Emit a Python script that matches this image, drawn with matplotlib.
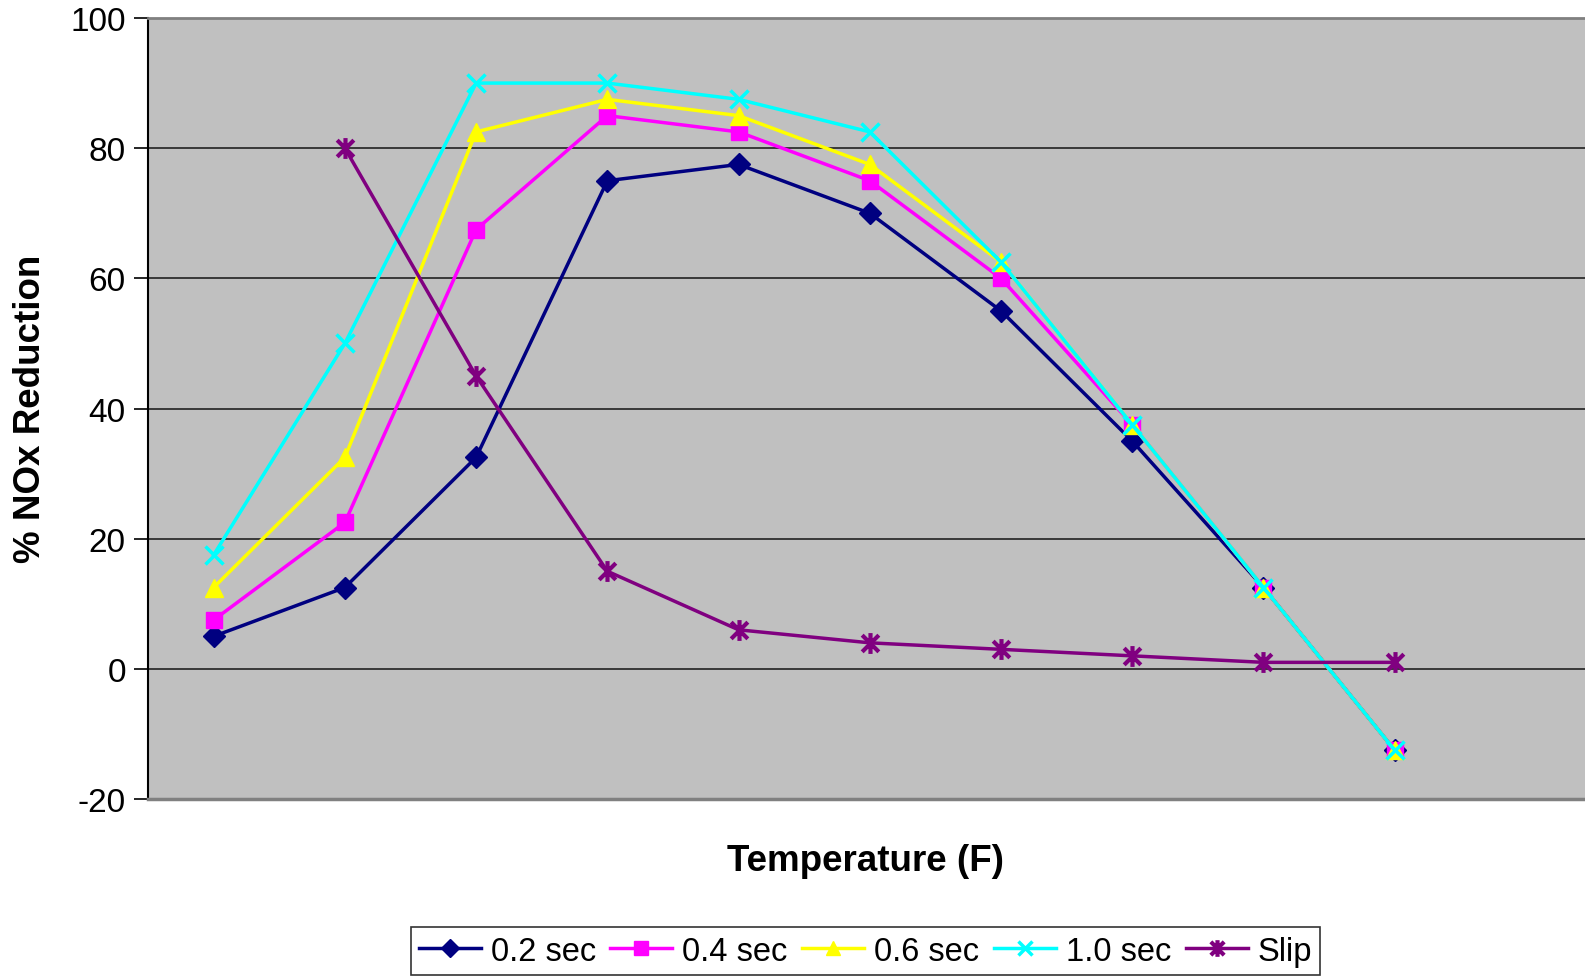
import matplotlib
matplotlib.use("Agg")
import matplotlib.pyplot as plt
from matplotlib.path import Path

plt.rcParams['font.family'] = ['Liberation Sans', 'DejaVu Sans']
plt.rcParams['axes.unicode_minus'] = False

# data (points at category positions 1..10)
positions = [1, 2, 3, 4, 5, 6, 7, 8, 9, 10]
sec_02 = [5, 12.5, 32.5, 75, 77.5, 70, 55, 35, 12.5, -12.5]
sec_04 = [7.5, 22.5, 67.5, 85, 82.5, 75, 60, 37.5, 12.5, -12.5]
sec_06 = [12.5, 32.5, 82.5, 87.5, 85, 77.5, 62.5, 37.5, 12.5, -12.5]
sec_10 = [17.5, 50, 90, 90, 87.5, 82.5, 62.5, 37.5, 12.5, -12.5]
slip_pos = [2, 3, 4, 5, 6, 7, 8, 9, 10]
slip = [80, 45, 15, 6, 4, 3, 2, 1, 1]
labels = ["0.2 sec", "0.4 sec", "0.6 sec", "1.0 sec", "Slip"]
yticks = [-20, 0, 20, 40, 60, 80, 100]

# excel style star: x with a vertical bar
star = Path([(0, -1), (0, 1), (-0.8, -0.8), (0.8, 0.8), (-0.8, 0.8), (0.8, -0.8)],
            [Path.MOVETO, Path.LINETO, Path.MOVETO, Path.LINETO, Path.MOVETO, Path.LINETO])

fig = plt.figure(figsize=(15.85, 9.79), dpi=100)
ax = fig.add_axes([0.0934, 0.1828, 0.9066, 0.7978])
ax.set_facecolor("#C0C0C0")

ax.plot(positions, sec_02, color="#000080", marker="D", ms=11, lw=2.5, label=labels[0])
ax.plot(positions, sec_04, color="#FF00FF", marker="s", ms=12, lw=2.5, label=labels[1])
ax.plot(positions, sec_06, color="#FFFF00", marker="^", ms=13, lw=2.5, label=labels[2])
ax.plot(positions, sec_10, color="#00FFFF", marker="x", ms=13, mew=2.5, lw=2.5, label=labels[3])
ax.plot(slip_pos, slip, color="#800080", marker=star, ms=15, mew=3, lw=2.5, label=labels[4])

ax.set_xlim(0.5, 11.45)
ax.set_ylim(-20, 100)
ax.set_yticks(yticks)
ax.set_xticks([])
ax.tick_params(axis="y", labelsize=24, length=10, width=1.2, color="black", pad=6)
ax.yaxis.grid(True, color="#222222", lw=1.2)
ax.set_axisbelow(True)

ax.spines["left"].set_color("black")
ax.spines["left"].set_linewidth(1.5)
ax.spines["bottom"].set_color("#808080")
ax.spines["bottom"].set_linewidth(2.5)
ax.spines["top"].set_color("#808080")
ax.spines["top"].set_linewidth(2)
ax.spines["right"].set_visible(False)

fig.text(0.019, 0.582, "% NOx Reduction", rotation=90, ha="center", va="center",
         fontsize=26.5, fontweight="bold")
fig.text(0.546, 0.12, "Temperature (F)", ha="center", va="center",
         fontsize=26.5, fontweight="bold")

leg = fig.legend(loc="lower center", bbox_to_anchor=(0.546, 0.0), ncol=5, fontsize=23.5,
                 frameon=True, fancybox=False, edgecolor="black", handlelength=1.9,
                 handletextpad=0.3, columnspacing=0.45, borderpad=0.25, borderaxespad=0.1,
                 markerscale=0.8)
leg.get_frame().set_linewidth(1.2)

fig.savefig("out.png", dpi=100)
